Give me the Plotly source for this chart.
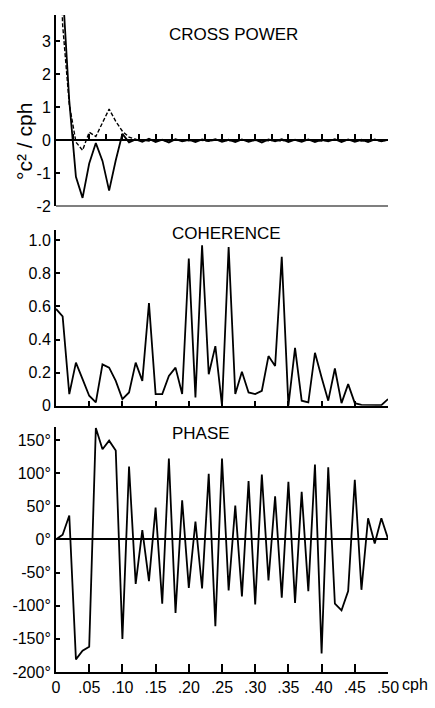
import plotly.graph_objects as go

# Frequency axis (cycles per hour)
freq = [0.00, 0.01, 0.02, 0.03, 0.04, 0.05, 0.06, 0.07, 0.08, 0.09,
        0.10, 0.11, 0.12, 0.13, 0.14, 0.15, 0.16, 0.17, 0.18, 0.19,
        0.20, 0.21, 0.22, 0.23, 0.24, 0.25, 0.26, 0.27, 0.28, 0.29,
        0.30, 0.31, 0.32, 0.33, 0.34, 0.35, 0.36, 0.37, 0.38, 0.39,
        0.40, 0.41, 0.42, 0.43, 0.44, 0.45, 0.46, 0.47, 0.48, 0.49, 0.50]

# Cross power spectrum: co-spectrum (solid) and quadrature spectrum (dashed), °C²/cph
cross_solid = [12.0, 4.6, 1.2, -1.1, -1.74, -0.7, -0.08, -0.62, -1.52, -0.6,
               0.2, -0.06, 0.03, -0.04, 0.05, -0.05, 0.02, -0.06, 0.04, -0.03,
               0.02, -0.05, 0.03, -0.02, 0.04, -0.04, 0.02, -0.05, 0.03, -0.04,
               0.02, -0.06, 0.03, -0.03, 0.04, -0.05, 0.02, -0.04, 0.03, -0.05,
               0.02, -0.03, 0.04, -0.05, 0.03, -0.04, 0.02, -0.05, 0.03, -0.03, 0.02]
cross_dashed = [9.0, 3.5, 1.1, -0.05, -0.3, 0.25, 0.12, 0.55, 0.95, 0.58,
                0.28, 0.1, 0.03, 0.01, -0.02, 0.02, 0.01, -0.02, 0.02, 0.01,
                -0.01, 0.02, 0.01, -0.02, 0.01, 0.02, -0.01, 0.01, 0.02, -0.02,
                0.01, 0.02, -0.01, 0.01, -0.02, 0.02, 0.01, -0.01, 0.02, 0.01,
                -0.02, 0.01, 0.02, -0.01, 0.01, 0.02, -0.02, 0.01, 0.01, -0.01, 0.01]

# Coherence
coherence = [0.585, 0.54, 0.07, 0.26, 0.16, 0.06, 0.02, 0.25, 0.23, 0.15,
             0.04, 0.08, 0.26, 0.15, 0.62, 0.07, 0.07, 0.18, 0.23, 0.07,
             0.89, 0.05, 0.97, 0.19, 0.36, 0.00, 0.96, 0.07, 0.205, 0.08,
             0.07, 0.09, 0.30, 0.24, 0.90, 0.00, 0.35, 0.03, 0.02, 0.32,
             0.17, 0.03, 0.225, 0.015, 0.13, 0.015, 0.005, 0.003, 0.003, 0.003, 0.04]

# Phase (degrees)
phase = [0, 7, 36, -181, -168, -162, 168, 136, 149, 134,
         -150, 110, -67, 14, -63, 48, -97, 122, -111, 59,
         -73, 27, -74, 99, -131, 122, -77, 51, -86, 88,
         -98, 98, -62, 65, -88, 87, -96, 72, -78, 113,
         -172, 109, -97, -107, -78, 90, -76, 32, -6, 32, 1]

# Tick labels
freq_ticks = [0.0, 0.05, 0.10, 0.15, 0.20, 0.25, 0.30, 0.35, 0.40, 0.45, 0.50]
freq_labels = ["0", ".05", ".10", ".15", ".20", ".25", ".30", ".35", ".40", ".45", ".50"]
cross_ticks = [-2, -1, 0, 1, 2, 3]
cross_labels = ["-2", "-1", "0", "1", "2", "3"]
coh_ticks = [0, 0.2, 0.4, 0.6, 0.8, 1.0]
coh_labels = ["0", "0.2", "0.4", "0.6", "0.8", "1.0"]
phase_ticks = [-200, -150, -100, -50, 0, 50, 100, 150]
phase_labels = ["-200°", "-150°", "-100°", "-50°", "0°", "50°", "100°", "150°"]

TICK_FONT = dict(family="Liberation Sans, Arial, sans-serif", size=16, color="black")
TITLE_FONT = dict(family="Liberation Sans, Arial, sans-serif", size=17, color="black")

cross_range = [-2, 3.8]
coh_range = [0, 1.06]
phase_range = [-200, 170]

dom1 = [0.7086, 1.0]
dom2 = [0.4054, 0.6721]
dom3 = [0.0, 0.3733]
# paper position of the cross-power zero level
zero1 = dom1[0] + (0 - cross_range[0]) / (cross_range[1] - cross_range[0]) * (dom1[1] - dom1[0])

fig = go.Figure()
line_solid = dict(color="black", width=1.8)

fig.add_trace(go.Scatter(x=freq, y=cross_dashed, mode="lines", xaxis="x", yaxis="y",
                         line=dict(color="black", width=1.4, dash="4px,2px")))
fig.add_trace(go.Scatter(x=freq, y=cross_solid, mode="lines", xaxis="x", yaxis="y",
                         line=line_solid))
fig.add_trace(go.Scatter(x=freq, y=coherence, mode="lines", xaxis="x2", yaxis="y2",
                         line=line_solid))
fig.add_trace(go.Scatter(x=freq, y=phase, mode="lines", xaxis="x3", yaxis="y3",
                         line=line_solid))

axis_common = dict(showline=True, linecolor="black", linewidth=2, showgrid=False,
                   zeroline=False, ticks="inside", tickcolor="black", tickwidth=1.5,
                   tickfont=TICK_FONT)

fig.update_layout(
    width=435, height=708,
    margin=dict(l=53, r=47, t=15, b=22),
    paper_bgcolor="white", plot_bgcolor="white",
    showlegend=False,
    # cross power: frequency axis drawn along the zero level
    xaxis=dict(axis_common, domain=[0, 1], range=[0, 0.5], anchor="free", position=zero1,
               dtick=0.025, tick0=0, ticklen=5, showticklabels=False),
    yaxis=dict(axis_common, domain=dom1, range=cross_range, anchor="x",
               tickvals=cross_ticks, ticktext=cross_labels, ticklen=4),
    xaxis2=dict(axis_common, domain=[0, 1], range=[0, 0.5], anchor="y2",
                dtick=0.05, tick0=0, ticklen=5, showticklabels=False),
    yaxis2=dict(axis_common, domain=dom2, range=coh_range, anchor="x2",
                tickvals=coh_ticks, ticktext=coh_labels, ticklen=4),
    xaxis3=dict(axis_common, domain=[0, 1], range=[0, 0.5], anchor="y3",
                tickvals=freq_ticks, ticktext=freq_labels, ticklen=8),
    yaxis3=dict(axis_common, domain=dom3, range=phase_range, anchor="x3",
                tickvals=phase_ticks, ticktext=phase_labels, ticklen=4,
                zeroline=True, zerolinecolor="black", zerolinewidth=2),
    shapes=[
        # lower frame line of the cross-power panel
        dict(type="line", xref="x domain", yref="y", x0=0, x1=1,
             y0=cross_range[0], y1=cross_range[0], line=dict(color="black", width=2)),
    ],
    annotations=[
        dict(text="CROSS POWER", xref="paper", yref="paper", x=0.334, y=0.970,
             xanchor="left", yanchor="middle", showarrow=False, font=TITLE_FONT),
        dict(text="COHERENCE", xref="paper", yref="paper", x=0.343, y=0.6677,
             xanchor="left", yanchor="middle", showarrow=False, font=TITLE_FONT),
        dict(text="PHASE", xref="paper", yref="paper", x=0.343, y=0.3636,
             xanchor="left", yanchor="middle", showarrow=False, font=TITLE_FONT),
        dict(text="°c² / cph", xref="paper", yref="paper", x=-0.093, y=0.807,
             xanchor="center", yanchor="middle", textangle=-90, showarrow=False,
             font=dict(TICK_FONT, size=21)),
        dict(text="cph", xref="x3", yref="paper", x=0.5, y=0, xanchor="left",
             yanchor="top", xshift=12, yshift=-2, showarrow=False, font=TICK_FONT),
    ],
)

fig.write_html("out.html")
